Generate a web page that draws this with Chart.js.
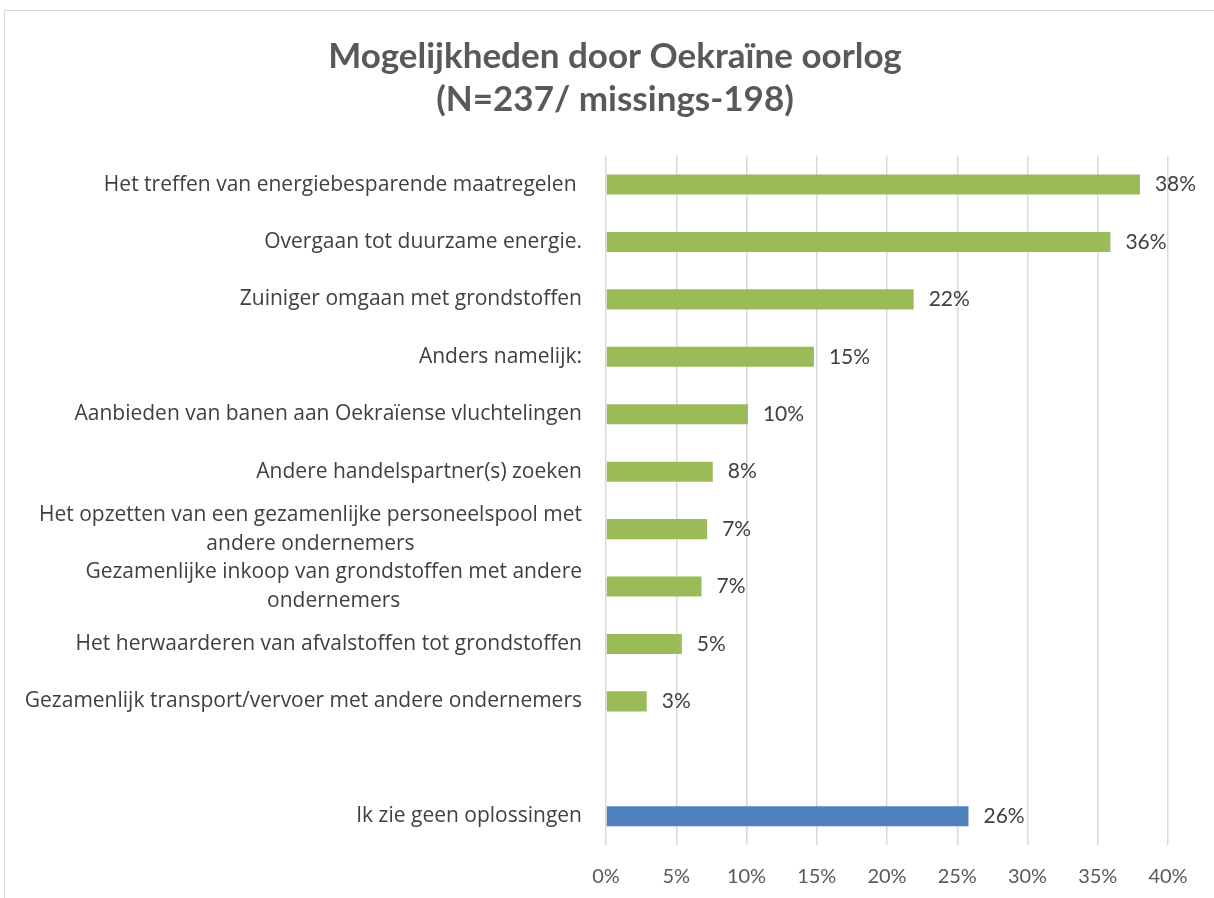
<!DOCTYPE html>
<html>
<head>
<meta charset="utf-8">
<script src="https://cdn.jsdelivr.net/npm/chart.js@4.4.1/dist/chart.umd.min.js"></script>
<style>
  html, body { margin: 0; padding: 0; background: #fff; overflow: hidden; }
  #wrap { position: relative; width: 1214px; height: 898px; }
  #frame { position: absolute; left: 4px; top: 10px; right: -4px; bottom: -4px; border: 1px solid #d9d9d9; }
  canvas { position: absolute; left: 0; top: 0; }
</style>
</head>
<body>
<div id="wrap">
  <div id="frame"></div>
  <canvas id="oorlogChart" width="1214" height="898"></canvas>
</div>
<script>
// categorieën (van boven naar beneden), lege regel = witruimte
const categories = [
    'Het treffen van energiebesparende maatregelen ',
    'Overgaan tot duurzame energie.',
    'Zuiniger omgaan met grondstoffen',
    'Anders namelijk:',
    'Aanbieden van banen aan Oekraïense vluchtelingen',
    'Andere handelspartner(s) zoeken',
    ['Het opzetten van een gezamenlijke personeelspool met', 'andere ondernemers'],
    ['Gezamenlijke inkoop van grondstoffen met andere', 'ondernemers'],
    'Het herwaarderen van afvalstoffen tot grondstoffen',
    'Gezamenlijk transport/vervoer met andere ondernemers',
    '',
    'Ik zie geen oplossingen'
];

// percentages
const values = [38.0, 35.9, 21.9, 14.8, 10.1, 7.6, 7.2, 6.8, 5.4, 2.9, null, 25.8];

// x-as ticks
const xTicks = [0, 5, 10, 15, 20, 25, 30, 35, 40];

const chartTitle = ['Mogelijkheden door Oekraïne oorlog', '(N=237/ missings-198)'];

const FONT = 'Lato, "Open Sans", sans-serif';
const LABEL_FONT = '"Open Sans", Lato, sans-serif';
const GREEN = '#9BBB59';
const BLUE = '#4F81BD';
const noSolution = categories.indexOf('Ik zie geen oplossingen');

// labels links van de as tekenen (tekstblok rechts uitgelijnd, regels gecentreerd)
const categoryLabels = {
    id: 'categoryLabels',
    afterDraw(chart) {
        const ctx = chart.ctx;
        const y = chart.scales.y;
        const right = chart.chartArea.left - 24;
        const lineH = 29;
        ctx.save();
        ctx.font = '21px ' + LABEL_FONT;
        ctx.fillStyle = '#404040';
        ctx.textAlign = 'center';
        ctx.textBaseline = 'middle';
        categories.forEach(function(lbl, i) {
            const lines = Array.isArray(lbl) ? lbl : [lbl];
            const maxW = Math.max.apply(null, lines.map(function(l) { return ctx.measureText(l).width; }));
            const cx = right - maxW / 2;
            const cy = y.getPixelForTick(i);
            const top = cy - (lines.length - 1) * lineH / 2;
            lines.forEach(function(l, j) {
                ctx.fillText(l, cx, top + j * lineH);
            });
        });
        ctx.restore();
    }
};

// waardelabels rechts van de balken
const valueLabels = {
    id: 'valueLabels',
    afterDatasetsDraw(chart) {
        const ctx = chart.ctx;
        const meta = chart.getDatasetMeta(0);
        ctx.save();
        ctx.font = '21px ' + FONT;
        ctx.fillStyle = '#404040';
        ctx.textAlign = 'left';
        ctx.textBaseline = 'middle';
        meta.data.forEach(function(bar, i) {
            if (values[i] == null) return;
            ctx.fillText(Math.round(values[i]) + '%', bar.x + 15, bar.y);
        });
        ctx.restore();
    }
};

new Chart(document.getElementById('oorlogChart').getContext('2d'), {
    type: 'bar',
    data: {
        labels: categories,
        datasets: [{
            data: values,
            backgroundColor: values.map(function(v, i) { return i === noSolution ? BLUE : GREEN; }),
            categoryPercentage: 1,
            barPercentage: 0.35
        }]
    },
    options: {
        indexAxis: 'y',
        responsive: false,
        animation: false,
        layout: { padding: { left: 62, right: 46, top: 0, bottom: 0 } },
        plugins: {
            legend: { display: false },
            tooltip: { enabled: false },
            title: {
                display: true,
                text: chartTitle,
                color: '#595959',
                font: { family: FONT, size: 35, weight: 'bold', lineHeight: 1.24 },
                padding: { top: 35, bottom: 34 }
            }
        },
        scales: {
            x: {
                min: 0,
                max: 40,
                afterBuildTicks: function(s) { s.ticks = xTicks.map(function(v) { return { value: v }; }); },
                ticks: {
                    callback: function(v) { return v + '%'; },
                    color: '#595959',
                    font: { family: FONT, size: 20 },
                    padding: 20,
                    maxRotation: 0
                },
                grid: { color: '#d9d9d9', lineWidth: 1.5, drawTicks: false },
                border: { display: false },
                afterFit: function(s) { s.height = 53; }
            },
            y: {
                ticks: { display: false },
                grid: { display: false },
                border: { display: false },
                afterFit: function(s) { s.width = 544; }
            }
        }
    },
    plugins: [categoryLabels, valueLabels]
});
</script>
</body>
</html>
